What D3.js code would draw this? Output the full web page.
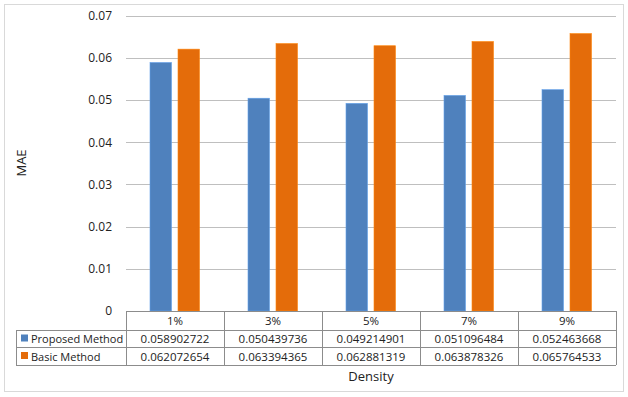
<!DOCTYPE html>
<html><head><meta charset="utf-8">
<script src="https://cdn.jsdelivr.net/npm/d3@7"></script>
<style>body{margin:0;background:#fff}svg{display:block}text{font-family:"Open Sans","DejaVu Sans",sans-serif;fill:#222}</style>
</head><body><svg id="c" width="628" height="397"></svg>
<script>
const categories = ["1%","3%","5%","7%","9%"];
const seriesNames = ["Proposed Method","Basic Method"];
const proposed = [0.058902722,0.050439736,0.049214901,0.051096484,0.052463668];
const basic = [0.062072654,0.063394365,0.062881319,0.063878326,0.065764533];
const valueLabels = [
  ["0.058902722","0.050439736","0.049214901","0.051096484","0.052463668"],
  ["0.062072654","0.063394365","0.062881319","0.063878326","0.065764533"]];
const yTicks = [0,0.01,0.02,0.03,0.04,0.05,0.06,0.07];
const colors = ["#4F81BD","#E46C0A"];

const svg = d3.select("#c");
svg.append("rect").attr("x",4.5).attr("y",4.5).attr("width",619).attr("height",387)
  .attr("fill","#fff").attr("stroke","#D9D9D9");

const L=126,R=616,T=15.7,B=311;
const x = d3.scaleBand().domain(categories).range([L,R]);
const y = d3.scaleLinear().domain([0,0.07]).range([B,T]);

svg.append("g").selectAll("line").data(yTicks.slice(1)).join("line")
  .attr("x1",L).attr("x2",R).attr("y1",d=>Math.round(y(d))+0.5).attr("y2",d=>Math.round(y(d))+0.5)
  .attr("stroke","#BFBFBF");
const yAxis = d3.axisLeft(y).tickValues(yTicks).tickSize(0).tickPadding(14)
  .tickFormat(d=>d===0?"0":d3.format(".2f")(d));
const ga = svg.append("g").attr("transform",`translate(${L},0)`).call(yAxis);
ga.select(".domain").remove();
ga.selectAll("text").attr("font-size",12).attr("fill","#222").style("font-family","'Open Sans',sans-serif");

const data = [proposed,basic];
const bw=21.5, off=[-25,3];
data.forEach((s,i)=>{
  svg.append("g").selectAll("rect").data(s).join("rect")
    .attr("x",(d,j)=>x(categories[j])+x.bandwidth()/2+off[i])
    .attr("y",d=>y(d)).attr("width",bw).attr("height",d=>B-y(d))
    .attr("fill",colors[i]).attr("stroke",d3.color(colors[i]).brighter(0.6)).attr("stroke-width",0.6);
});

const tc="#8C8C8C";
const rows=[B,330,347,365];
const tL=16;
const fs=11.5;
const tg=svg.append("g");
tg.append("line").attr("x1",L).attr("x2",R).attr("y1",B+0.5).attr("y2",B+0.5).attr("stroke",tc);
[rows[1],rows[2],rows[3]].forEach(r=>tg.append("line").attr("x1",tL).attr("x2",R).attr("y1",r+0.5).attr("y2",r+0.5).attr("stroke",tc));
tg.append("line").attr("x1",tL+0.5).attr("x2",tL+0.5).attr("y1",rows[1]).attr("y2",rows[3]).attr("stroke",tc);
const cols = categories.map(c=>x(c)).concat([R]);
cols.forEach(cx=>tg.append("line").attr("x1",Math.round(cx)+0.5).attr("x2",Math.round(cx)+0.5).attr("y1",B).attr("y2",rows[3]).attr("stroke",tc));
tg.selectAll("text.cat").data(categories).join("text").attr("class","cat")
  .attr("x",d=>x(d)+x.bandwidth()/2).attr("y",(rows[0]+rows[1])/2+4.5)
  .attr("text-anchor","middle").attr("font-size",fs).text(d=>d);
seriesNames.forEach((n,i)=>{
  const cy=(rows[i+1]+rows[i+2])/2;
  tg.append("rect").attr("x",21).attr("y",cy-4).attr("width",7).attr("height",7).attr("fill",colors[i]);
  tg.append("text").attr("x",31).attr("y",cy+4.5).attr("font-size",11).text(n);
  tg.selectAll("text.v"+i).data(valueLabels[i]).join("text").attr("class","v"+i)
    .attr("x",(d,j)=>x(categories[j])+x.bandwidth()/2).attr("y",cy+4.5)
    .attr("text-anchor","middle").attr("font-size",fs).text(d=>d);
});

svg.append("text").attr("transform","translate(26,163) rotate(-90)").attr("text-anchor","middle")
  .attr("font-size",13).text("MAE");
svg.append("text").attr("x",(L+R)/2).attr("y",381).attr("text-anchor","middle").attr("font-size",13).text("Density");
</script></body></html>
